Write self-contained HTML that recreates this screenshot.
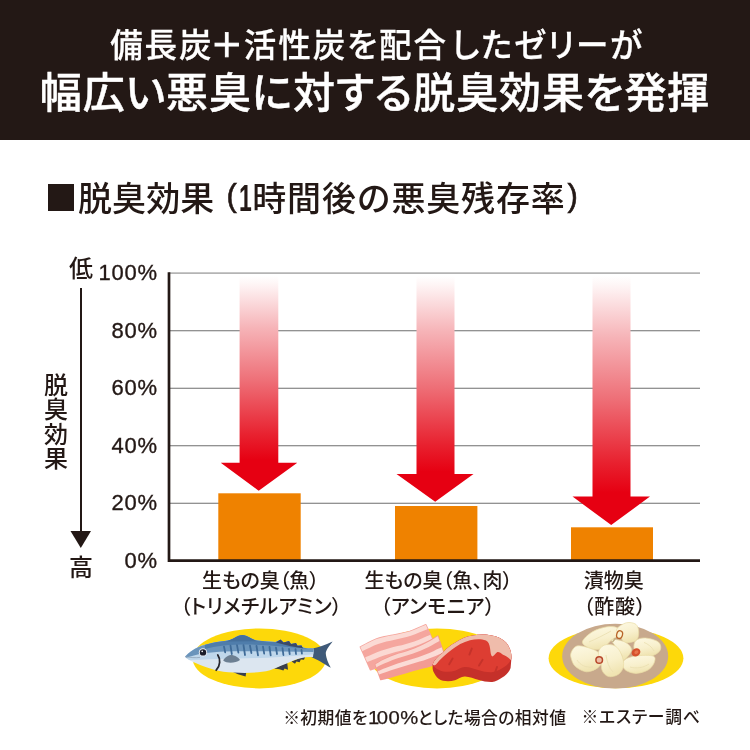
<!DOCTYPE html>
<html lang="ja">
<head>
<meta charset="utf-8">
<title>脱臭効果</title>
<style>
html,body{margin:0;padding:0;background:#fff;}
body{width:750px;height:750px;position:relative;overflow:hidden;font-family:"Liberation Sans","Noto Sans CJK JP",sans-serif;color:#231815;}
.t{position:absolute;white-space:nowrap;line-height:1;}
#hdr{position:absolute;left:0;top:0;width:750px;height:140px;background:#231815;}
#h1{-webkit-text-stroke:0.3px #fff;left:2px;width:750px;text-align:center;top:30px;font-size:32.5px;color:#fff;font-weight:500;letter-spacing:1.92px;font-feature-settings:"palt";}
#h2{-webkit-text-stroke:0.45px #fff;left:0;width:750px;text-align:center;top:73px;font-size:42px;color:#fff;font-weight:500;letter-spacing:0.87px;font-feature-settings:"palt";}
#ttl{left:78px;top:182px;font-size:34px;font-weight:500;letter-spacing:0.8px;}
#ttl .p{display:inline-block;position:relative;top:-5px;font-size:31px;letter-spacing:0;-webkit-text-stroke:0.6px #231815;}
#ttl .d{display:inline-block;font-size:37px;line-height:33px;letter-spacing:0;position:relative;top:0px;font-weight:700;transform:scaleX(0.62);transform-origin:0 0;}
#sq{position:absolute;left:48px;top:184px;width:26px;height:27px;background:#231815;}
.yl{width:70px;left:87.7px;text-align:right;font-size:22px;font-family:"Liberation Sans",sans-serif;letter-spacing:0.7px;-webkit-text-stroke:0.35px #231815;}
.cl{font-size:20px;font-weight:500;text-align:center;width:240px;letter-spacing:0px;font-feature-settings:"palt";}
.vt{font-size:24px;font-weight:500;}
.nt{font-size:16.8px;font-weight:500;letter-spacing:0.38px;font-feature-settings:"palt";}
.nd{display:inline-block;font-weight:400;font-size:18.4px;letter-spacing:0.4px;line-height:16px;transform:scaleX(1.1);transform-origin:0 50%;margin:0 3.8px 0 0.3px;-webkit-text-stroke:0.25px #231815;}
</style>
</head>
<body>
<div id="hdr"></div>
<div class="t" id="h1">備長炭<span style="margin-left:-3px;margin-right:-1px;-webkit-text-stroke:0.9px #fff">＋</span>活性炭を配合<span style="margin-left:4px">し</span>たゼリーが</div>
<div class="t" id="h2">幅広い悪臭に対する脱臭効果を発揮</div>
<div id="sq"></div>
<div class="t" id="ttl"><span style="letter-spacing:0.1px">脱臭効果</span><span class="p" style="margin-left:12px;margin-right:2px">(</span><span class="d" style="margin-right:-7px">1</span>時間後の悪臭残存率<span class="p" style="margin-left:2px">)</span></div>

<svg id="chart" style="position:absolute;left:0;top:0" width="750" height="750" viewBox="0 0 750 750">
<defs>
<linearGradient id="ag1" gradientUnits="userSpaceOnUse" x1="0" y1="276" x2="0" y2="470">
<stop offset="0" stop-color="#fdeeee" stop-opacity="0"/>
<stop offset="0.08" stop-color="#fdeaeb"/>
<stop offset="0.27" stop-color="#f6b3b7"/>
<stop offset="0.54" stop-color="#ee6f77"/>
<stop offset="0.82" stop-color="#e8212f"/>
<stop offset="0.95" stop-color="#e60012"/>
</linearGradient>
<linearGradient id="ag2" gradientUnits="userSpaceOnUse" x1="0" y1="276" x2="0" y2="482">
<stop offset="0" stop-color="#fdeeee" stop-opacity="0"/>
<stop offset="0.08" stop-color="#fdeaeb"/>
<stop offset="0.27" stop-color="#f6b3b7"/>
<stop offset="0.54" stop-color="#ee6f77"/>
<stop offset="0.82" stop-color="#e8212f"/>
<stop offset="0.95" stop-color="#e60012"/>
</linearGradient>
<linearGradient id="ag3" gradientUnits="userSpaceOnUse" x1="0" y1="276" x2="0" y2="504">
<stop offset="0" stop-color="#fdeeee" stop-opacity="0"/>
<stop offset="0.08" stop-color="#fdeaeb"/>
<stop offset="0.27" stop-color="#f6b3b7"/>
<stop offset="0.54" stop-color="#ee6f77"/>
<stop offset="0.82" stop-color="#e8212f"/>
<stop offset="0.95" stop-color="#e60012"/>
</linearGradient>
</defs>
<!-- gridlines -->
<line x1="169" x2="700" y1="273.2" y2="273.2" stroke="#b4b4b4" stroke-width="1.8"/>
<g stroke="#6e6e6e" stroke-width="1.1">
<line x1="169" x2="700" y1="330.7" y2="330.7"/>
<line x1="169" x2="700" y1="388.2" y2="388.2"/>
<line x1="169" x2="700" y1="445.8" y2="445.8"/>
<line x1="169" x2="700" y1="503.3" y2="503.3"/>
</g>
<!-- bars -->
<g fill="#ef8200">
<rect x="218.3" y="493.3" width="82.4" height="67"/>
<rect x="395" y="506" width="82.4" height="55"/>
<rect x="571" y="527.3" width="82" height="33"/>
</g>
<!-- arrows -->
<path fill="url(#ag1)" d="M239.6 274 H278.3 V462.7 H297.3 L258.7 490.7 L220.7 462.7 H239.6 Z"/>
<path fill="url(#ag2)" d="M416.5 274 H454.5 V474 H473.5 L435.2 501.8 L396.5 474 H416.5 Z"/>
<path fill="url(#ag3)" d="M592.5 274 H630.5 V496.6 H650 L611.2 525 L572.5 496.6 H592.5 Z"/>
<!-- axes -->
<path d="M169 272.3 V560.7 H700" fill="none" stroke="#231815" stroke-width="2.7"/>
<!-- illustrations -->
<g id="fish">
<ellipse cx="259.4" cy="658.4" rx="66.8" ry="30" fill="#fdd80a"/>
<clipPath id="fishclip"><path id="fishbody" d="M185.2 656.4 C188.5 652.6 193.5 649.2 198 647.2 C207 643.6 219 641.6 228 640.6 C233 639.6 237 635.4 242.4 635.1 C247.5 635 252 640 256.8 640.6 C264 641.5 270 641.8 275.5 642 L280.5 639.8 L283.5 642.6 L289 641.2 L291 644 L296 643.2 L297.5 645.8 L301.5 645.6 L302.5 647.6 C306 648.4 310 648.8 313.8 648.8 L313 657.2 C307 656.4 300.5 657.8 293.4 660.6 C285 664.2 278 667.4 270 670.2 C258 673.2 245 673.2 234 672.6 C226 672.2 220 671.2 216 670.2 C207 667.4 199 664.6 194.4 662.4 C190 660.4 186 658.4 185.2 656.4 Z"/></clipPath>
<!-- fins behind -->
<path d="M233 672 L246.4 671 L245.6 676.4 L238 674.2 Z" fill="#3a3f4a"/>
<path d="M274 668.6 L287.2 662.6 L288 669.8 L284.6 668.4 L283.4 670.4 L279.4 669.2 Z" fill="#3a3f4a"/>
<path d="M291.6 661.4 L305.6 655.8 L304 659.8 L300.8 659.6 L299.6 662.2 L296.4 661.6 L295 663.8 Z" fill="#3a3f4a"/>
<!-- tail -->
<path d="M312.4 648.4 C318 647.6 325 645.4 332.6 641.6 C328 647.6 325.6 651 325.8 654 C326.2 658.4 328.2 663 330.8 667.8 C323 663 317 659 311.8 657.4 Z" fill="#3f5a79"/>
<g clip-path="url(#fishclip)">
<rect x="180" y="630" width="160" height="50" fill="#dce6f0"/>
<path d="M180 661 C200 659.4 230 658.8 260 658 C285 657 305 655 320 653.6 L320 640 L180 640 Z" fill="#bfd7eb"/>
<path d="M180 660 C192 654.6 208 652 225 651.4 C250 651 285 651.6 320 652 L320 630 L180 630 Z" fill="#6a94bb"/>
<path d="M205 649 C220 644.6 245 643.6 270 645.4 C290 646.8 305 648.6 320 649.6 L320 630 L205 630 Z" fill="#4f7dab"/>
<path d="M226 641.4 C233 639.6 237 635.4 242.4 635.1 C247.5 635 252 640 258 641.2 Z" fill="#456f9b"/>
<g stroke="#3f6b98" stroke-width="1.8" stroke-linecap="round" fill="none">
<path d="M224 646.6 L225.2 652.4"/><path d="M230.5 645.6 L231.8 654"/><path d="M237 645.2 L238.4 652.6"/><path d="M243.5 645.2 L245 655"/><path d="M250 645.6 L251.4 653"/><path d="M256.5 646 L258 655.4"/><path d="M263 646.6 L264.2 653.6"/><path d="M269.5 647 L270.7 655.4"/><path d="M276 647.6 L277 654"/><path d="M282.5 648.2 L283.4 655"/><path d="M289 648.8 L289.7 654.2"/><path d="M295.5 649.2 L296 654"/><path d="M301.5 649.8 L301.9 653.6"/>
</g>
<path d="M185 656.6 C190 657.6 196 658 200 657.4" stroke="#8fa3b8" stroke-width="0.8" fill="none"/>
</g>
<path d="M276 642.4 L280.6 639.6 L283.5 642.6 L289 641 L291 644 L296 643 L297.5 645.8 L301.5 645.4 L303 648.2 C295 647 285 645 276 642.4 Z" fill="#3b4a66"/>
<path d="M217.8 655 C220.6 659 220.4 666 216.2 670.2" stroke="#26262e" stroke-width="1.8" fill="none" stroke-linecap="round"/>
<path d="M223.2 660.6 C225 656.6 230 654.6 233 655.2 C236.4 656 239 658 240 660 C237.6 661.8 234 662.8 230.6 662.8 C227.6 662.8 224.8 662 223.2 660.6 Z" fill="#6c7f92"/>
<circle cx="203" cy="652.4" r="4.2" fill="#e9eef5"/>
<circle cx="203" cy="652.4" r="3.2" fill="#1b1d29"/>
<circle cx="202.2" cy="651.4" r="0.8" fill="#fff"/>
</g>

<g id="meat">
<ellipse cx="437" cy="658.4" rx="66.8" ry="30" fill="#fdd80a"/>
<!-- bacon -->
<g>
<path d="M360.4 647.0 C361.7 646.3 365.5 644.2 368.1 642.9 C370.7 641.6 373.3 640.3 376.0 639.3 C378.7 638.3 381.5 637.6 384.3 636.9 C387.1 636.3 390.0 635.8 392.8 635.2 C395.7 634.7 398.5 634.2 401.3 633.5 C404.2 632.9 407.0 632.3 409.8 631.5 C412.5 630.6 415.1 629.3 417.8 628.2 C420.5 627.1 424.5 625.4 425.8 624.8 L435.4 646.4 C434.1 647.0 430.2 648.7 427.5 649.9 C424.9 651.0 422.2 652.0 419.5 653.0 C416.8 654.1 414.1 655.1 411.4 656.1 C408.7 657.0 406.0 658.0 403.3 658.9 C400.6 659.8 397.8 660.6 395.1 661.5 C392.4 662.4 389.6 663.3 386.9 664.2 C384.2 665.2 381.5 666.2 378.8 667.1 C376.1 668.0 372.0 669.4 370.6 669.8 Z" fill="#f5a69e" stroke="#f5a69e" stroke-width="1.6" stroke-linejoin="round"/>
<path d="M360.4 647.0 C361.7 646.3 365.5 644.2 368.1 642.9 C370.7 641.6 373.3 640.3 376.0 639.3 C378.7 638.3 381.5 637.6 384.3 636.9 C387.1 636.3 390.0 635.8 392.8 635.2 C395.7 634.7 398.5 634.2 401.3 633.5 C404.2 632.9 407.0 632.3 409.8 631.5 C412.5 630.6 415.1 629.3 417.8 628.2 C420.5 627.1 424.5 625.4 425.8 624.8 L427.6 628.9 C426.3 629.5 422.3 631.2 419.7 632.3 C417.0 633.4 414.4 634.6 411.6 635.6 C408.9 636.5 406.1 637.1 403.3 637.8 C400.5 638.5 397.6 639.1 394.8 639.7 C392.0 640.4 389.1 640.9 386.3 641.6 C383.6 642.3 380.8 643.1 378.1 644.1 C375.4 645.0 372.7 646.3 370.1 647.5 C367.5 648.7 363.6 650.7 362.3 651.3 Z" fill="#fbdad4"/>
<path d="M365.1 657.5 C366.4 656.9 370.3 655.2 373.0 654.0 C375.7 652.9 378.3 651.7 381.0 650.8 C383.7 649.8 386.5 649.0 389.3 648.2 C392.0 647.5 394.9 646.8 397.6 646.1 C400.4 645.4 403.2 644.7 406.0 643.9 C408.8 643.1 411.5 642.3 414.3 641.4 C417.0 640.4 419.6 639.3 422.3 638.2 C424.9 637.0 428.9 635.3 430.2 634.7 L432.1 639.1 C430.8 639.6 426.9 641.4 424.2 642.5 C421.6 643.6 418.9 644.7 416.2 645.7 C413.5 646.7 410.7 647.5 408.0 648.4 C405.3 649.3 402.5 650.1 399.7 650.9 C397.0 651.6 394.2 652.3 391.4 653.2 C388.7 654.0 385.9 654.8 383.2 655.8 C380.5 656.7 377.8 657.8 375.1 658.9 C372.5 659.9 368.5 661.5 367.1 662.0 Z" fill="#fbd9d3"/>
</g>
<g>
<path d="M375.4 664.4 C376.6 663.7 380.3 661.4 382.8 660.1 C385.4 658.8 388.0 657.6 390.7 656.5 C393.3 655.4 396.0 654.5 398.8 653.6 C401.5 652.8 404.3 652.1 407.0 651.2 C409.7 650.3 412.4 649.4 415.1 648.3 C417.8 647.3 420.4 646.1 422.9 644.8 C425.5 643.6 428.0 642.1 430.5 640.7 C433.0 639.3 436.6 637.0 437.8 636.2 L446.2 660.8 C444.8 661.2 440.8 662.5 438.1 663.3 C435.4 664.2 432.7 665.1 430.0 665.9 C427.2 666.7 424.5 667.4 421.8 668.1 C419.0 668.8 416.3 669.5 413.5 670.2 C410.8 671.0 408.1 671.9 405.4 672.7 C402.7 673.5 400.0 674.3 397.3 675.1 C394.5 675.9 391.8 676.7 389.1 677.5 C386.3 678.2 382.2 679.1 380.8 679.4 Z" fill="#f39b93" stroke="#f39b93" stroke-width="1.6" stroke-linejoin="round"/>
<path d="M375.4 664.4 C376.6 663.7 380.3 661.4 382.8 660.1 C385.4 658.8 388.0 657.6 390.7 656.5 C393.3 655.4 396.0 654.5 398.8 653.6 C401.5 652.8 404.3 652.1 407.0 651.2 C409.7 650.3 412.4 649.4 415.1 648.3 C417.8 647.3 420.4 646.1 422.9 644.8 C425.5 643.6 428.0 642.1 430.5 640.7 C433.0 639.3 436.6 637.0 437.8 636.2 L439.5 641.1 C438.2 641.8 434.5 643.9 432.0 645.2 C429.5 646.6 426.9 647.9 424.3 649.0 C421.8 650.2 419.1 651.3 416.4 652.3 C413.8 653.3 411.0 654.1 408.3 655.0 C405.6 655.8 402.8 656.6 400.1 657.5 C397.4 658.3 394.6 659.2 392.0 660.2 C389.3 661.3 386.7 662.4 384.1 663.6 C381.5 664.8 377.7 666.8 376.5 667.4 Z" fill="#fad5ce"/>
<path d="M377.8 671.1 C379.1 670.6 383.0 668.9 385.6 667.9 C388.3 666.9 390.9 665.8 393.6 664.9 C396.3 663.9 399.0 663.1 401.7 662.2 C404.5 661.4 407.2 660.6 409.9 659.8 C412.7 658.9 415.4 658.1 418.1 657.2 C420.8 656.3 423.5 655.4 426.1 654.3 C428.7 653.2 431.3 652.1 433.9 650.9 C436.5 649.7 440.3 647.9 441.6 647.3 L443.4 652.7 C442.1 653.2 438.2 654.8 435.6 655.9 C432.9 656.9 430.3 658.0 427.6 658.9 C425.0 659.9 422.3 660.7 419.6 661.6 C416.9 662.4 414.1 663.1 411.4 663.9 C408.7 664.8 405.9 665.6 403.2 666.4 C400.5 667.2 397.8 668.1 395.1 669.0 C392.4 669.9 389.7 670.8 387.0 671.7 C384.3 672.6 380.4 674.0 379.0 674.4 Z" fill="#fbdcd6"/>
</g>

<!-- steak -->
<path d="M432.6 664.6 C434 660 438 656 443 652.4 C447 648 451 645 455 642.8 C461 638.4 467 636 473 635.4 C478 634.6 483 634.4 487.4 634.8 C493 635.4 498 637 501.8 639.2 C505.6 641.4 508 644.4 509.2 647.6 C511 651 511.6 655 511.4 658.4 L510.6 668 C509 672.6 505.6 675.6 501.8 677.8 C498.6 680 495.6 681.6 492.2 682 C487.6 682.2 483 681.2 479 680 C474 678.6 469 676.2 464.6 676.4 C461 676.8 458 679 455 680.2 C451 681.4 447 681.4 443 680.8 C439.6 679.8 437.2 677.8 435.6 675.4 C433.6 672.6 432.6 670 432.6 668 Z" fill="#c5302a"/>
<path d="M432.6 664.6 C434 660 438 656 443 652.4 C447 648 451 645 455 642.8 C461 638.4 467 636 473 635.4 C478 634.6 483 634.4 487.4 634.8 C493 635.4 498 637 501.8 639.2 C505.6 641.4 508 644.4 509.2 647.6 C511 651 511.6 655 511.4 658.4 C510 662.6 506 666.4 501.8 668.6 C498 670.6 495 672 491.6 672.2 C487 672.4 483 671.4 479 670.2 C474 668.8 469 666.6 464.6 667 C461 667.4 458 669.6 455 670.8 C451 672 447 672 443 671.4 C439.6 670.4 437.2 669.4 435.6 668 C433.8 666.8 432.8 665.6 432.6 664.6 Z" fill="#dd3d32"/>
<path d="M432.6 664.6 C434 660 438 656 443 652.4 C447 648 451 645 455 642.8 C461 638.4 467 636 473 635.4 C478 634.6 483 634.4 487.4 634.8 C493 635.4 498 637 501.8 639.2 C505.6 641.4 508 644.4 509.2 647.6 C511 651 511.6 655 511.4 658.4 L510.8 660 C508.6 657.6 505.6 656 503 654.8 C501 653 499 651.6 497.4 652 C495.6 653 494.6 655.6 492.4 656.4 C490.6 655.4 490.6 651.6 490 648 C489.6 644.6 488.6 641.6 486 640.4 C481 638.6 475 639 470 640.2 C463 642 457 645.6 452 649.6 C446 654 440 659.6 436 664.4 C434.6 665.6 433.4 665.6 432.6 664.6 Z" fill="#efbcab"/>
<g stroke="#c5322a" stroke-width="1.9" stroke-linecap="round">
<path d="M471.8 648.6 L469.4 654.6"/><path d="M452.6 658.6 L449.2 664.2"/><path d="M482.6 659.8 L479 665.6"/><path d="M497 667 L495.4 671.6"/>
</g>
</g>

<g id="pickles">
<defs><linearGradient id="pk" x1="0" y1="0" x2="0.3" y2="1"><stop offset="0" stop-color="#fdf9e4"/><stop offset="0.6" stop-color="#f8f0cd"/><stop offset="1" stop-color="#f0e4b2"/></linearGradient></defs>
<ellipse cx="616" cy="658.2" rx="67.4" ry="30" fill="#fdd80a"/>
<ellipse cx="615.2" cy="656.2" rx="53" ry="32.4" fill="#c8a98c"/>
<g fill="url(#pk)" stroke="#e9dca6" stroke-width="0.7" stroke-linejoin="round">
<path d="M582.4 642.0 C582.7 639.1 588.7 634.1 592.8 631.6 C596.9 629.1 603.1 627.4 607.2 626.8 C611.3 626.2 615.3 626.7 617.6 627.9 C619.9 629.1 621.7 632.1 620.8 634.0 C619.9 635.9 615.1 637.2 612.0 639.6 C608.9 642.0 605.9 646.9 602.4 648.4 C598.9 649.9 594.5 649.8 591.2 648.7 C587.9 647.7 582.1 644.9 582.4 642.0 Z"/>
<path d="M616.8 628.9 C617.9 626.9 623.2 623.5 626.4 622.8 C629.6 622.1 633.9 622.8 636.0 624.4 C638.1 626.0 638.7 629.7 638.7 632.4 C638.7 635.1 638.3 638.7 636.0 640.4 C633.7 642.1 627.5 643.3 624.8 642.3 C622.1 641.4 621.0 637.0 619.7 634.8 C618.3 632.6 615.7 630.9 616.8 628.9 Z"/>
<path d="M612.0 639.6 C613.5 638.9 621.5 640.3 624.8 642.0 C628.1 643.7 631.7 647.0 631.5 650.0 C631.4 653.0 625.7 659.1 624.0 659.9 C622.3 660.7 623.0 657.0 621.6 654.8 C620.2 652.6 617.1 649.0 615.5 646.5 C613.9 643.9 610.5 640.3 612.0 639.6 Z"/>
<path d="M636.0 640.4 C637.9 638.7 641.9 637.7 645.6 638.0 C649.3 638.3 655.9 640.0 658.4 642.0 C660.9 644.0 661.4 647.7 660.3 650.0 C659.3 652.3 655.5 654.9 652.0 655.8 C648.5 656.6 642.2 656.3 639.2 655.1 C636.2 653.9 634.6 650.9 634.1 648.4 C633.5 645.9 634.1 642.1 636.0 640.4 Z"/>
<path d="M571.2 652.4 C572.1 650.3 574.0 646.8 576.8 646.0 C579.6 645.2 584.4 646.5 588.0 647.6 C591.6 648.7 595.9 650.3 598.4 652.4 C600.9 654.5 602.9 657.3 602.7 659.9 C602.6 662.5 600.3 665.9 597.6 667.9 C594.9 669.9 590.1 672.0 586.4 671.8 C582.7 671.5 577.7 668.6 575.2 666.3 C572.7 664.1 571.9 660.6 571.2 658.3 C570.5 656.0 570.3 654.5 571.2 652.4 Z"/>
<path d="M623.2 661.5 C624.5 659.3 628.0 657.4 632.8 656.4 C637.6 655.4 648.3 655.0 652.0 655.8 C655.7 656.6 655.3 658.9 654.7 661.2 C654.2 663.5 651.9 667.5 648.8 669.5 C645.7 671.5 640.0 673.4 636.0 673.4 C632.0 673.4 626.9 671.5 624.8 669.5 C622.7 667.5 621.9 663.7 623.2 661.5 Z"/>
<path d="M598.4 652.4 C598.9 649.7 601.2 646.3 604.0 645.2 C606.8 644.1 612.3 644.4 615.2 646.0 C618.1 647.6 620.2 651.5 621.6 654.8 C623.0 658.1 624.1 662.7 623.5 666.0 C623.0 669.3 620.9 672.6 618.4 674.3 C615.9 676.1 611.5 677.1 608.8 676.6 C606.1 676.0 603.7 673.6 602.4 671.1 C601.1 668.6 601.5 664.6 600.8 661.5 C600.1 658.4 597.9 655.1 598.4 652.4 Z"/>
</g>
<g stroke="#eadfb0" stroke-width="0.9" fill="none" opacity="0.9">
<path d="M589 642 C596 639 604 635 611 631"/>
<path d="M644 642.4 C648 644 652 647 654 651"/>
<path d="M630 667 C636 669 644 667.6 649 664"/>
<path d="M577 660 C580 665 586 668 593 667"/>
<path d="M606 655 C607 662 609 668 613 672"/>
</g>
<ellipse cx="619.6" cy="634.6" rx="2.9" ry="3.9" fill="#fbf3d0" stroke="#b9652a" stroke-width="1.3" transform="rotate(15 619.6 634.6)"/>
<path d="M612.4 642 L615.2 638.8" stroke="#c4b283" stroke-width="1.3"/>
<circle cx="599.2" cy="660" r="3.3" fill="#eec0a6" stroke="#b8482b" stroke-width="1.5"/>
<ellipse cx="636" cy="652.4" rx="4.6" ry="3.9" fill="#d6502b" transform="rotate(-35 636 652.4)"/>
<ellipse cx="636.4" cy="652.2" rx="2.2" ry="1.7" fill="#e8744a" transform="rotate(-35 636.4 652.2)"/>
</g>
<!-- left arrow -->
<line x1="81" x2="81" y1="288" y2="535" stroke="#231815" stroke-width="2"/>
<path d="M70.5 531 H91 L80.8 548 Z" fill="#231815"/>
</svg>

<div class="t yl" style="top:262px">100%</div>
<div class="t yl" style="top:319.5px">80%</div>
<div class="t yl" style="top:377px">60%</div>
<div class="t yl" style="top:434.5px">40%</div>
<div class="t yl" style="top:492px">20%</div>
<div class="t yl" style="top:549.5px">0%</div>

<div class="t vt" style="left:69px;top:257px">低</div>
<div class="t vt" style="left:69px;top:556px">高</div>
<div class="t vt" style="left:44px;top:374px;line-height:24px;white-space:normal;width:24px;line-height:24.3px">脱<br>臭<br>効<br>果</div>

<div class="t cl" style="left:140.5px;top:570.7px;letter-spacing:-0.15px">生もの臭（魚）</div>
<div class="t cl" style="left:141.3px;top:597px;letter-spacing:0.3px">（トリメチルアミン）</div>
<div class="t cl" style="left:318.5px;top:570.7px">生もの臭（魚、肉）</div>
<div class="t cl" style="left:317.8px;top:597px;letter-spacing:0.4px">（アンモニア）</div>
<div class="t cl" style="left:493.8px;top:570.7px">漬物臭</div>
<div class="t cl" style="left:495px;top:597px;letter-spacing:0.7px">（酢酸）</div>

<div class="t nt" id="note" style="left:283.2px;top:709.6px;">※初期値を<span class="nd"><span style="letter-spacing:-2.2px">1</span>00%</span>とした場合の相対値</div>
<div class="t nt" id="note2" style="left:581.5px;top:709.6px;letter-spacing:0.8px">※エステー調べ</div>
</body>
</html>
